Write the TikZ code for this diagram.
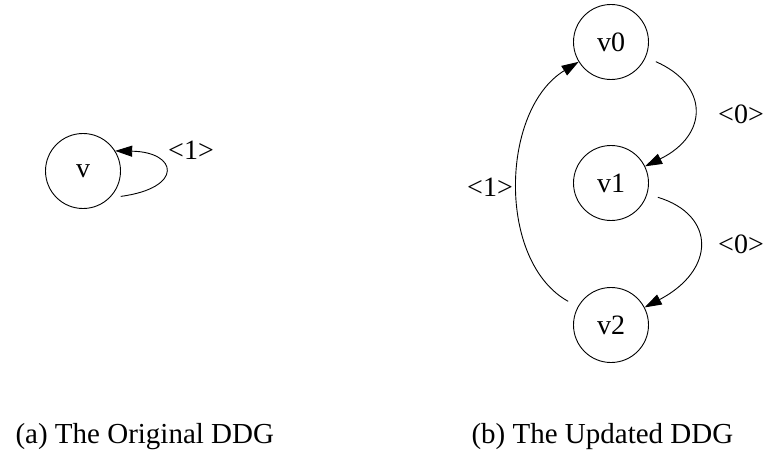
\documentclass[tikz,border=0pt]{standalone}
\usepackage{fontspec}
\setmainfont{Liberation Serif}
\usetikzlibrary{arrows.meta}
\tikzset{
    vtx/.style={draw, line width=0.9pt, circle, minimum size=75pt, inner sep=0pt, font=\fontsize{28}{32}\selectfont},
    lbl/.style={font=\fontsize{28}{32}\selectfont},
    captext/.style={font=\fontsize{29}{34}\selectfont, anchor=base west},
    dep/.style={line width=0.9pt, -{Triangle[length=17pt,width=11pt]}, shorten <=11pt}
}
\begin{document}
\begin{tikzpicture}[x=1pt,y=-1pt]
        \useasboundingbox (0,0) rectangle (767,473);
        %draw the original graph with its self loop
        \node[vtx] (v) at (83,171) {v};
        \draw[dep] (v.-45) .. controls (184,188) and (178,152) .. (v.32);
        \node[lbl] (lv) at (191,150) {<1>};

        %draw the updated graph
        \node[vtx] (v0) at (611,42) {v0};
        \node[vtx] (v1) at (611,183) {v1};
        \node[vtx] (v2) at (611,325) {v2};
        \draw[dep] (v0) .. controls (709,85) and (709,135) .. (v1);
        \draw[dep] (v1) .. controls (716,215) and (716,270) .. (v2);
        \draw[dep] (v2) .. controls (497,262) and (500,110) .. (v0);
        % label the edges with their distances
        \node[lbl] (l01) at (741,114) {<0>};
        \node[lbl] (l12) at (741,244) {<0>};
        \node[lbl] (l20) at (490,187) {<1>};

        % captions
        \node[captext] (capa) at (12,443) {(a) The Original DDG};
        \node[captext] (capb) at (468,443) {(b) The Updated DDG};
    \end{tikzpicture}
\end{document}
